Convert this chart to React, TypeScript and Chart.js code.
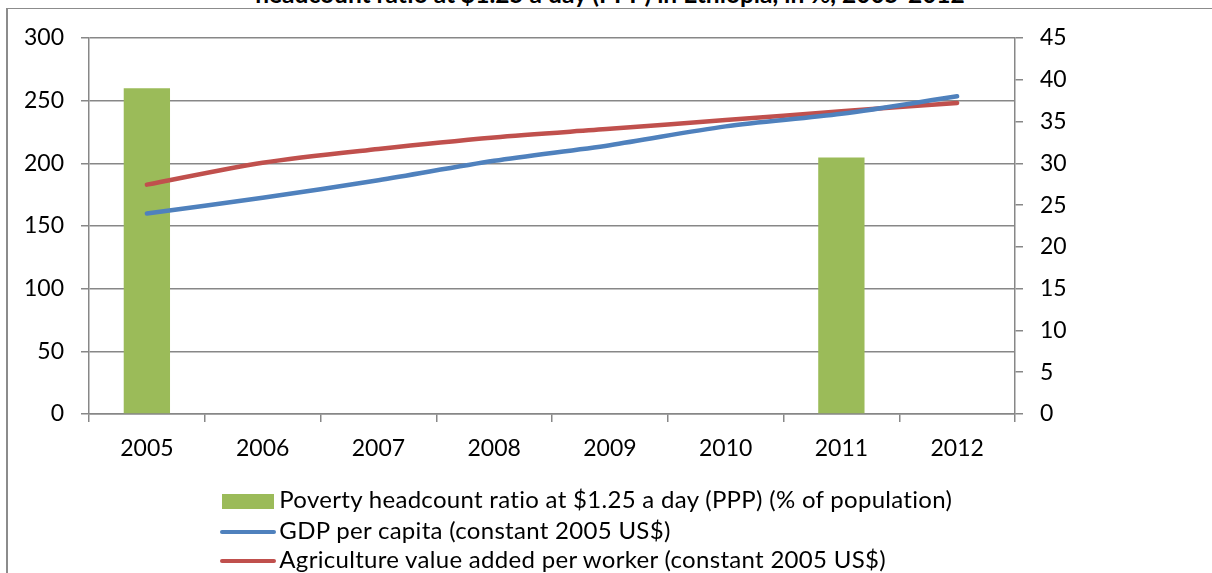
import React, { useEffect, useRef } from "react";
import { Chart, registerables } from "chart.js";

Chart.register(...registerables);

const years = ["2005", "2006", "2007", "2008", "2009", "2010", "2011", "2012"];
const povertyRatio = [39.0, null, null, null, null, null, 30.7, null];
const gdpPerCapita = [160, 172.6, 186.5, 202, 214.5, 229.5, 239.5, 253.5];
const agriValuePerWorker = [183, 200.5, 211.5, 220.7, 227.5, 234.5, 241.5, 248.2];
const seriesNames = [
  "Poverty headcount ratio at $1.25 a day (PPP) (% of population)",
  "GDP per capita (constant 2005 US$)",
  "Agriculture value added per worker (constant 2005 US$)",
];
const titleText = "headcount ratio at $1.25 a day (PPP) in Ethiopia, in %, 2005-2012";

const GREEN = "#9BBB59";
const BLUE = "#4F81BD";
const RED = "#C0504D";
const GRID = "#878787";
const FONT = "Lato, 'Liberation Sans', sans-serif";
const W = 1212;
const H = 573;

export default function App() {
  const canvasRef = useRef<HTMLCanvasElement | null>(null);

  useEffect(() => {
    const canvas = canvasRef.current;
    if (!canvas) return;
    const tickFont = { family: FONT, size: 23 };
    const chart = new Chart(canvas, {
      type: "bar",
      data: {
        labels: years,
        datasets: [
          {
            type: "bar",
            label: seriesNames[0],
            data: povertyRatio,
            yAxisID: "y1",
            backgroundColor: GREEN,
            borderWidth: 0,
            barPercentage: 0.4,
            categoryPercentage: 1,
            order: 3,
          } as any,
          {
            type: "line",
            label: seriesNames[1],
            data: gdpPerCapita,
            yAxisID: "y",
            borderColor: BLUE,
            backgroundColor: BLUE,
            borderWidth: 4.5,
            pointRadius: 0,
            tension: 0.3,
            borderCapStyle: "round",
            borderJoinStyle: "round",
            order: 1,
          } as any,
          {
            type: "line",
            label: seriesNames[2],
            data: agriValuePerWorker,
            yAxisID: "y",
            borderColor: RED,
            backgroundColor: RED,
            borderWidth: 4.5,
            pointRadius: 0,
            tension: 0.3,
            borderCapStyle: "round",
            borderJoinStyle: "round",
            order: 2,
          } as any,
        ],
      },
      options: {
        responsive: true,
        maintainAspectRatio: false,
        animation: false,
        layout: { padding: { top: 38, left: 0, right: 0, bottom: 0 } },
        plugins: {
          legend: { display: false },
          title: { display: false },
          tooltip: { enabled: false },
        },
        scales: {
          x: {
            offset: true,
            grid: {
              display: true,
              drawOnChartArea: false,
              drawTicks: true,
              tickLength: 8,
              color: GRID,
              lineWidth: 1.5,
              offset: true,
            },
            border: { display: true, color: GRID, width: 1.5 },
            ticks: { font: tickFont, color: "#000", padding: 13, maxRotation: 0, autoSkip: false },
            afterFit: (s: any) => {
              s.height = H - 414;
            },
          },
          y: {
            position: "left",
            min: 0,
            max: 300,
            ticks: { stepSize: 50, font: tickFont, color: "#000", padding: 17 },
            grid: { color: GRID, lineWidth: 1.5, tickLength: 8 },
            border: { display: true, color: GRID, width: 1.5 },
            afterFit: (s: any) => {
              s.width = 89;
            },
          },
          y1: {
            position: "right",
            min: 0,
            max: 45,
            ticks: { stepSize: 5, font: tickFont, color: "#000", padding: 17 },
            grid: { drawOnChartArea: false, color: GRID, lineWidth: 1.5, tickLength: 8 },
            border: { display: true, color: GRID, width: 1.5 },
            afterFit: (s: any) => {
              s.width = W - 1015;
            },
          },
        },
      } as any,
    });
    return () => chart.destroy();
  }, []);

  const legendRows = [
    { name: seriesNames[0], color: GREEN, kind: "box", top: 483.5 },
    { name: seriesNames[1], color: BLUE, kind: "line", top: 514.5 },
    { name: seriesNames[2], color: RED, kind: "line", top: 543.5 },
  ];

  return (
    <div
      style={{
        position: "fixed",
        left: 0,
        top: 0,
        width: W,
        height: H,
        overflow: "hidden",
        background: "#fff",
        fontFamily: FONT,
      }}
    >
      <div
        style={{
          position: "absolute",
          left: 0,
          top: -18,
          width: 1220,
          textAlign: "center",
          fontWeight: 700,
          fontSize: 24.5,
          lineHeight: "24.5px",
          whiteSpace: "nowrap",
          color: "#000",
        }}
      >
        {titleText}
      </div>
      <div
        style={{
          position: "absolute",
          left: 6,
          top: 8,
          width: 1400,
          height: 700,
          borderLeft: "2px solid #8c8c8c",
          borderTop: "1.5px solid #8c8c8c",
          boxSizing: "border-box",
          background: "#fff",
        }}
      />
      <div style={{ position: "absolute", left: 0, top: 0, width: W, height: H }}>
        <canvas ref={canvasRef} />
      </div>
      {legendRows.map((r, i) => (
        <div
          key={i}
          style={{
            position: "absolute",
            left: 0,
            top: r.top,
            height: 30,
            width: W,
            lineHeight: "30px",
            fontSize: 24,
            letterSpacing: 0.3,
            color: "#000",
            whiteSpace: "nowrap",
          }}
        >
          {r.kind === "box" ? (
            <div
              style={{
                position: "absolute",
                left: 221.7,
                top: 10,
                width: 52.3,
                height: 15,
                background: r.color,
              }}
            />
          ) : (
            <div
              style={{
                position: "absolute",
                left: 220,
                top: 15,
                width: 56,
                height: 4.5,
                borderRadius: 2.25,
                background: r.color,
              }}
            />
          )}
          <span style={{ position: "absolute", left: 279.3, top: 0 }}>{r.name}</span>
        </div>
      ))}
    </div>
  );
}
